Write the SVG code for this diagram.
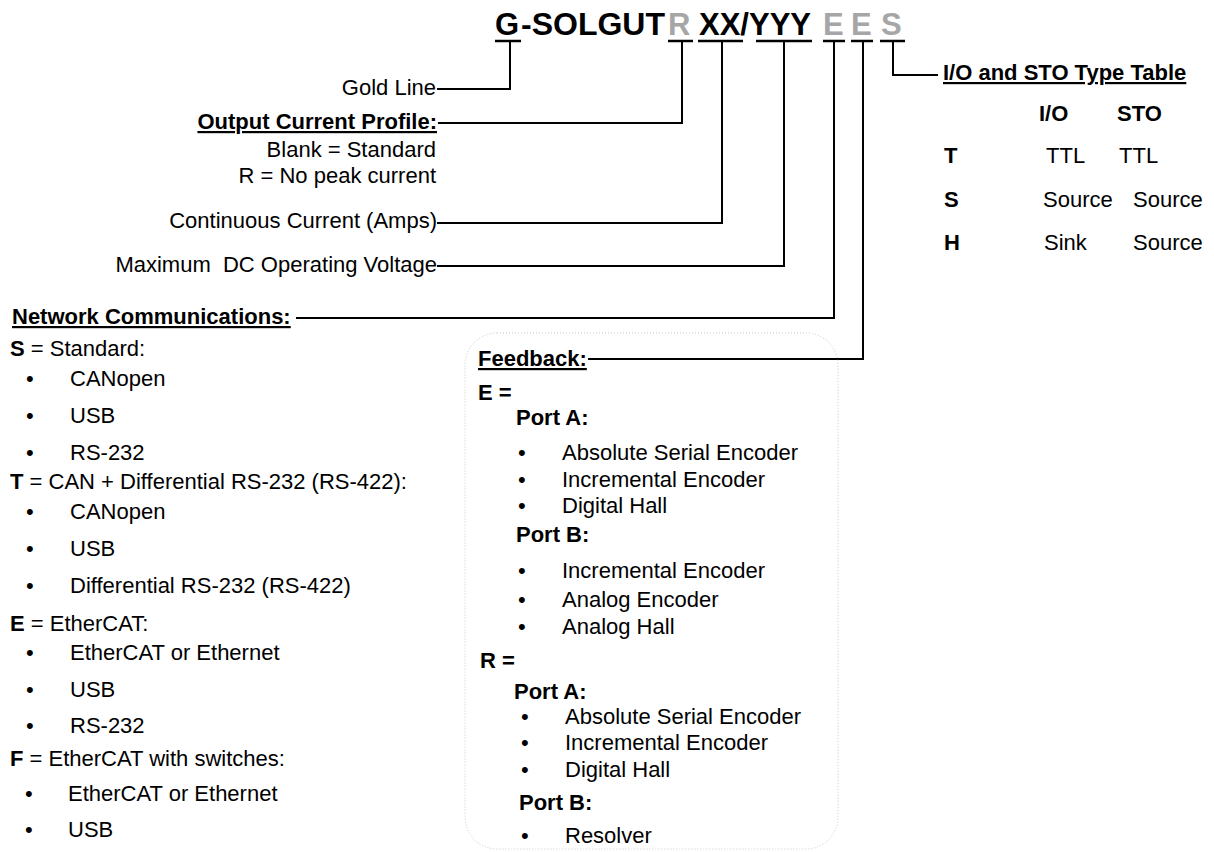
<svg xmlns="http://www.w3.org/2000/svg" width="1214" height="852" viewBox="0 0 1214 852">
<style>
text{font-family:"Liberation Sans",Arial,sans-serif;font-size:22px;fill:#000}
.b{font-weight:bold}
.u{text-decoration:underline}
.g{fill:#a6a6a6}
.t{font-size:31px;font-weight:bold}
.c{fill:none;stroke:#000;stroke-width:2}
.ul{stroke:#000;stroke-width:2.5}
.box{fill:none;stroke:#c8c8c8;stroke-width:1;stroke-dasharray:1 2}
</style>
<rect width="1214" height="852" fill="#fff"/>
<g id="title">
<text class="t" x="495" y="35">G</text>
<text class="t" x="521" y="35" textLength="144" lengthAdjust="spacingAndGlyphs">-SOLGUT</text>
<text class="t g" x="668" y="35">R</text>
<text class="t" x="699" y="35">XX/YYY</text>
<text class="t g" x="823" y="35">E</text>
<text class="t g" x="851" y="35">E</text>
<text class="t g" x="881" y="35">S</text>
<line class="ul" x1="495" y1="41" x2="521" y2="41"/>
<line class="ul" x1="668" y1="41" x2="693" y2="41"/>
<line class="ul" x1="698" y1="41" x2="743" y2="41"/>
<line class="ul" x1="756" y1="41" x2="812" y2="41"/>
<line class="ul" x1="823" y1="41" x2="845" y2="41"/>
<line class="ul" x1="851" y1="41" x2="873" y2="41"/>
<line class="ul" x1="880" y1="41" x2="905" y2="41"/>
</g>
<g id="connectors">
<polyline class="c" points="510,42 510,89 437,89"/>
<polyline class="c" points="682,42 682,123 438,123"/>
<polyline class="c" points="722,42 722,223 437,223"/>
<polyline class="c" points="784,42 784,266 437,266"/>
<polyline class="c" points="834,42 834,318 296,318"/>
<polyline class="c" points="863,42 863,359 588,359"/>
<polyline class="c" points="893,42 893,75 938,75"/>
</g>
<g id="gold-line">
<text x="436" y="95" text-anchor="end">Gold Line</text>
</g>
<g id="output-current">
<text class="b u" x="437" y="129" text-anchor="end">Output Current Profile:</text>
<text x="436" y="157" text-anchor="end">Blank = Standard</text>
<text x="436" y="183" text-anchor="end">R = No peak current</text>
</g>
<g id="continuous-current">
<text x="437" y="228" text-anchor="end">Continuous Current (Amps)</text>
</g>
<g id="max-voltage">
<text x="437" y="272" text-anchor="end" xml:space="preserve">Maximum  DC Operating Voltage</text>
</g>
<g id="network">
<text class="b u" x="12" y="324">Network Communications:</text>
<text x="10" y="356"><tspan class="b">S</tspan> = Standard:</text>
<text x="26" y="386">•</text><text x="70" y="386">CANopen</text>
<text x="26" y="423">•</text><text x="70" y="423">USB</text>
<text x="26" y="460">•</text><text x="70" y="460">RS-232</text>
<text x="10" y="489"><tspan class="b">T</tspan> = CAN + Differential RS-232 (RS-422):</text>
<text x="26" y="519">•</text><text x="70" y="519">CANopen</text>
<text x="26" y="556">•</text><text x="70" y="556">USB</text>
<text x="26" y="593">•</text><text x="70" y="593">Differential RS-232 (RS-422)</text>
<text x="10" y="631"><tspan class="b">E</tspan> = EtherCAT:</text>
<text x="26" y="660">•</text><text x="70" y="660">EtherCAT or Ethernet</text>
<text x="26" y="697">•</text><text x="70" y="697">USB</text>
<text x="26" y="733">•</text><text x="70" y="733">RS-232</text>
<text x="10" y="766"><tspan class="b">F</tspan> = EtherCAT with switches:</text>
<text x="25" y="801">•</text><text x="68" y="801">EtherCAT or Ethernet</text>
<text x="25" y="837">•</text><text x="68" y="837">USB</text>
</g>
<g id="feedback">
<rect class="box" x="465" y="333" width="373" height="516" rx="32"/>
<text class="b u" x="478" y="366">Feedback:</text>
<text class="b" x="478" y="400">E =</text>
<text class="b" x="516" y="425">Port A:</text>
<text x="518" y="460">•</text><text x="562" y="460">Absolute Serial Encoder</text>
<text x="518" y="487">•</text><text x="562" y="487">Incremental Encoder</text>
<text x="518" y="513">•</text><text x="562" y="513">Digital Hall</text>
<text class="b" x="516" y="542">Port B:</text>
<text x="518" y="578">•</text><text x="562" y="578">Incremental Encoder</text>
<text x="518" y="607">•</text><text x="562" y="607">Analog Encoder</text>
<text x="518" y="634">•</text><text x="562" y="634">Analog Hall</text>
<text class="b" x="480" y="668">R =</text>
<text class="b" x="514" y="699">Port A:</text>
<text x="521" y="724">•</text><text x="565" y="724">Absolute Serial Encoder</text>
<text x="521" y="750">•</text><text x="565" y="750">Incremental Encoder</text>
<text x="521" y="777">•</text><text x="565" y="777">Digital Hall</text>
<text class="b" x="519" y="810">Port B:</text>
<text x="521" y="843">•</text><text x="565" y="843">Resolver</text>
</g>
<g id="io-sto-table">
<text class="b u" x="943" y="80">I/O and STO Type Table</text>
<text class="b" x="1039" y="121">I/O</text>
<text class="b" x="1117" y="121">STO</text>
<text class="b" x="944" y="163">T</text>
<text x="1046" y="163">TTL</text>
<text x="1119" y="163">TTL</text>
<text class="b" x="944" y="207">S</text>
<text x="1043" y="207">Source</text>
<text x="1133" y="207">Source</text>
<text class="b" x="944" y="250">H</text>
<text x="1044" y="250">Sink</text>
<text x="1133" y="250">Source</text>
</g>
</svg>
